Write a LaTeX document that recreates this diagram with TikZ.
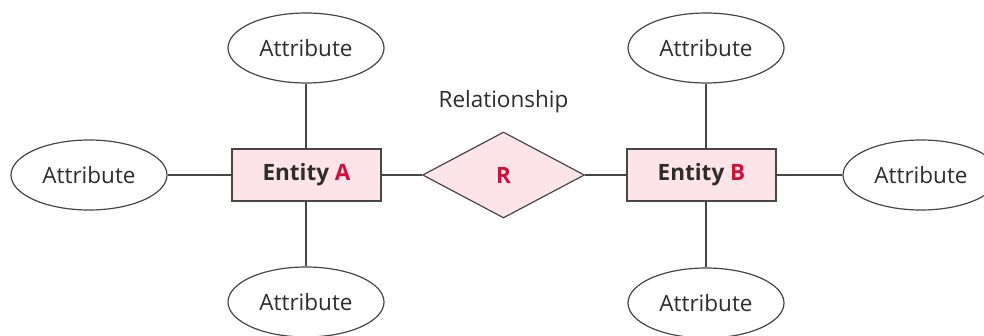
\documentclass[tikz,border=0pt]{standalone}
\usepackage{fontspec}
\setmainfont{Open Sans}
\usetikzlibrary{shapes.geometric}
\definecolor{pinkfill}{RGB}{253,228,233}
\definecolor{accent}{RGB}{208,16,58}
\definecolor{stroke}{RGB}{70,70,70}
\definecolor{txt}{RGB}{45,45,45}
\tikzset{
  attr/.style={ellipse, draw=stroke, line width=1.2pt, fill=white, minimum width=156pt, minimum height=70pt, inner sep=0pt, text=txt, font=\fontsize{22.5}{26}\selectfont},
  entity/.style={rectangle, draw=stroke, line width=1.4pt, fill=pinkfill, minimum width=149pt, minimum height=52pt, inner sep=0pt, text=txt, font=\fontsize{22.5}{26}\selectfont\bfseries},
  rel/.style={diamond, draw=stroke, line width=1.2pt, fill=pinkfill, aspect=1.88, minimum width=162pt, minimum height=86pt, inner sep=0pt, text=accent, font=\fontsize{22.5}{26}\selectfont\bfseries},
  conn/.style={draw=stroke, line width=1.2pt},
  lbl/.style={text=txt, font=\fontsize{22.5}{26}\selectfont, inner sep=0pt}
}
\begin{document}
\begin{tikzpicture}[x=1pt,y=-1pt]
\useasboundingbox (0,0) rectangle (984,336);
\clip (0,0) rectangle (984,336);
\fill[white] (0,0) rectangle (984,336);
% entities and relationship
\node[entity] (eA) at (306.5,175) {Entity \textcolor{accent}{A}};
\node[entity] (eB) at (701.5,175) {Entity \textcolor{accent}{B}};
\node[rel] (R) at (503.5,175) {R};
\node[lbl] (rlabel) at (503.5,102) {Relationship};
% attributes
\node[attr] (aL) at (89,175) {Attribute};
\node[attr] (aAT) at (306,48) {Attribute};
\node[attr] (aAB) at (306,302) {Attribute};
\node[attr] (aBT) at (706,48) {Attribute};
\node[attr] (aBB) at (706,303) {Attribute};
\node[attr] (aR) at (921,175) {Attribute};
% connectors
\draw[conn] (aL.east) -- (eA.west);
\draw[conn] (eA.east) -- (R.west);
\draw[conn] (R.east) -- (eB.west);
\draw[conn] (eB.east) -- (aR.west);
\draw[conn] (aAT.south) -- (aAT.south |- eA.north);
\draw[conn] (aAB.north) -- (aAB.north |- eA.south);
\draw[conn] (aBT.south) -- (aBT.south |- eB.north);
\draw[conn] (aBB.north) -- (aBB.north |- eB.south);
\end{tikzpicture}
\end{document}
